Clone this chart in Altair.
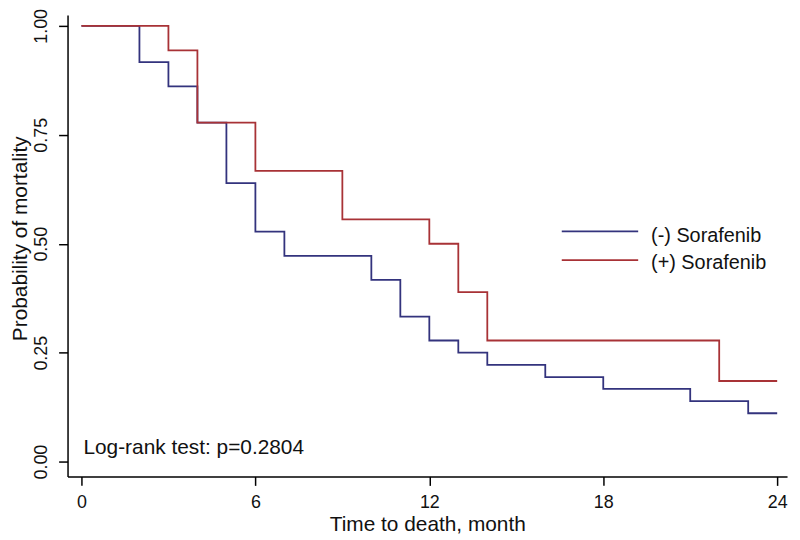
import altair as alt
import pandas as pd

# (-) Sorafenib : step survival curve
minus_time = [0, 2, 3, 4, 5, 6, 7, 10, 11, 12, 13, 14, 16, 18, 21, 23, 24]
minus_prob = [1.00, 0.917, 0.861, 0.778, 0.639, 0.528, 0.472, 0.417, 0.333, 0.278, 0.250, 0.222, 0.194, 0.167, 0.139, 0.111, 0.111]
# (+) Sorafenib
plus_time = [0, 3, 4, 6, 9, 12, 13, 14, 22, 24]
plus_prob = [1.00, 0.944, 0.778, 0.667, 0.556, 0.500, 0.389, 0.278, 0.185, 0.185]

groups = ["(-)  Sorafenib", "(+) Sorafenib"]
colors = ["#33337d", "#a83236"]
x_ticks = [0, 6, 12, 18, 24]
y_ticks = [0.0, 0.25, 0.5, 0.75, 1.0]
annotation = "Log-rank test: p=0.2804"

FONT = "Liberation Sans"
FS = 21
LFS = 18

df = pd.concat([
    pd.DataFrame({"time": minus_time, "prob": minus_prob, "group": groups[0], "order": 0}),
    pd.DataFrame({"time": plus_time, "prob": plus_prob, "group": groups[1], "order": 1}),
])

x_scale = alt.Scale(domain=[-0.48, 24.34], nice=False, zero=False)
y_scale = alt.Scale(domain=[-0.034, 1.025], nice=False, zero=False)

lines = alt.Chart(df).mark_line(interpolate="step-after", strokeWidth=1.8).encode(
    x=alt.X("time:Q", scale=x_scale,
            axis=alt.Axis(values=x_ticks, title="Time to death, month", format="d",
                          labelFlush=False, labelPadding=8, titlePadding=2,
                          tickSize=9, grid=False)),
    y=alt.Y("prob:Q", scale=y_scale,
            axis=alt.Axis(values=y_ticks, title="Probability of mortality", format=".2f",
                          labelAngle=-90, labelAlign="center", labelBaseline="bottom",
                          labelFlush=False, labelPadding=8, tickSize=9, grid=False,
                          titleX=-47, titleY=225, titleBaseline="middle", titleAngle=270)),
    color=alt.Color("group:N", scale=alt.Scale(domain=groups, range=colors), legend=None),
    detail="order:N",
)

one = alt.Data(values=[{}])

leg_rule1 = alt.Chart(one).mark_rule(color=colors[0], strokeWidth=1.8).encode(
    x=alt.value(498), x2=alt.value(575), y=alt.value(218))
leg_rule2 = alt.Chart(one).mark_rule(color=colors[1], strokeWidth=1.8).encode(
    x=alt.value(498), x2=alt.value(575), y=alt.value(247))
leg_text1 = alt.Chart(one).mark_text(text=groups[0], align="left", baseline="middle",
                                     font=FONT, fontSize=20, color="#111").encode(
    x=alt.value(588), y=alt.value(223))
leg_text2 = alt.Chart(one).mark_text(text=groups[1], align="left", baseline="middle",
                                     font=FONT, fontSize=20, color="#111").encode(
    x=alt.value(588), y=alt.value(250))
note = alt.Chart(one).mark_text(text=annotation, align="left", baseline="middle",
                                font=FONT, fontSize=FS, color="#111").encode(
    x=alt.value(16), y=alt.value(436))

chart = alt.layer(lines, leg_rule1, leg_rule2, leg_text1, leg_text2, note).properties(
    width=725, height=465,
    padding={"left": 60, "top": 5, "right": 5, "bottom": 60},
    autosize=alt.AutoSizeParams(type="none"),
    background="white",
).configure_view(stroke=None).configure_axis(
    domainColor="black", domainWidth=1.5, tickColor="black", tickWidth=1.5,
    labelFont=FONT, titleFont=FONT, labelFontSize=LFS, titleFontSize=FS,
    labelColor="#111", titleColor="#111", titleFontWeight="normal",
)

chart.save("out.html", embed_options={"renderer": "svg", "actions": False})
